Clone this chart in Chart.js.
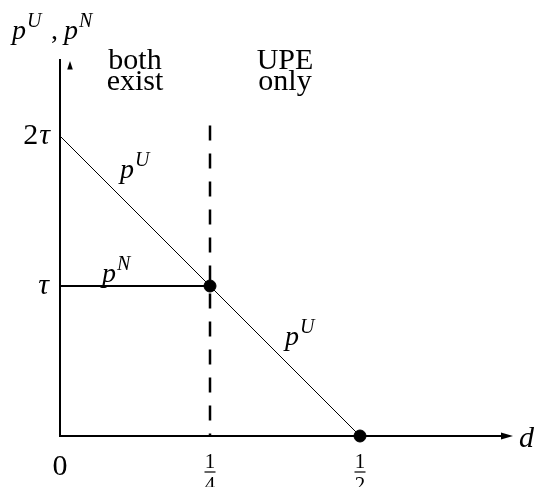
<!DOCTYPE html>
<html>
<head>
<meta charset="utf-8">
<script src="https://cdn.jsdelivr.net/npm/chart.js@4/dist/chart.umd.min.js"></script>
<style>
  html, body { margin: 0; padding: 0; background: #fff; }
  #wrap { width: 544px; height: 487px; position: relative; }
</style>
</head>
<body>
<div id="wrap"><canvas id="c" width="544" height="487"></canvas></div>
<script>
// Distance d (x) and prices in units of tau (y)
const dUPE = [0, 0.25, 0.5];          // p^U falls from 2tau to 0
const pUValues = [2, 1, 0];
const dNPE = [0, 0.25];               // p^N flat at tau while both exist
const pNValues = [1, 1];
const thresholdD = 0.25;              // regime boundary
const thresholdSpan = [2.07, 0];
const kinkD = [0.25, 0.5];
const kinkP = [1, 0];
const xTicks = [{ v: 0, num: '0' }, { v: 0.25, num: '1', den: '4' }, { v: 0.5, num: '1', den: '2' }];
const yTicks = [{ v: 1, label: 'τ' }, { v: 2, label: '2τ' }];
const regionLabels = [
  { x: 0.125, lines: ['both', 'exist'] },
  { x: 0.375, lines: ['UPE', 'only'] }
];
const curveLabels = [
  { x: 0.1, y: 1.72, base: 'p', sup: 'U' },
  { x: 0.07, y: 1.03, base: 'p', sup: 'N' },
  { x: 0.375, y: 0.61, base: 'p', sup: 'U' }
];

const pts = (xs, ys) => xs.map((x, i) => ({ x, y: ys[i] }));

const SERIF = '"Liberation Serif", "DejaVu Serif", serif';

function supText(ctx, x, y, base, sup, size) {
  ctx.font = 'italic ' + size + 'px ' + SERIF;
  ctx.textAlign = 'left';
  ctx.textBaseline = 'alphabetic';
  ctx.fillText(base, x, y);
  const w = ctx.measureText(base).width;
  ctx.font = 'italic ' + Math.round(size * 0.7) + 'px ' + SERIF;
  ctx.fillText(sup, x + w + 1, y - size * 0.42);
}

const axesPlugin = {
  id: 'axesAndText',
  beforeDatasetsDraw(chart) {
    const ctx = chart.ctx;
    const xs = chart.scales.x, ys = chart.scales.y;
    const x0 = xs.getPixelForValue(0), y0 = ys.getPixelForValue(0);
    const xEnd = xs.getPixelForValue(0.755);
    const yTop = ys.getPixelForValue(2.5);
    ctx.save();
    ctx.strokeStyle = '#000';
    ctx.fillStyle = '#000';
    ctx.lineWidth = 2;
    ctx.lineCap = 'butt';
    // horizontal axis with arrowhead
    ctx.beginPath();
    ctx.moveTo(x0 - 1, y0);
    ctx.lineTo(xEnd - 8, y0);
    ctx.stroke();
    ctx.beginPath();
    ctx.moveTo(xEnd, y0);
    ctx.lineTo(xEnd - 12, y0 - 3.5);
    ctx.lineTo(xEnd - 12, y0 + 3.5);
    ctx.closePath();
    ctx.fill();
    // vertical axis, arrowhead set just beside it
    ctx.beginPath();
    ctx.moveTo(x0, y0 + 1);
    ctx.lineTo(x0, yTop - 2);
    ctx.stroke();
    ctx.beginPath();
    ctx.moveTo(x0 + 10, yTop);
    ctx.lineTo(x0 + 7.2, yTop + 8.5);
    ctx.lineTo(x0 + 12.8, yTop + 8.5);
    ctx.closePath();
    ctx.fill();

    // y tick labels
    ctx.textBaseline = 'middle';
    ctx.textAlign = 'right';
    yTicks.forEach(t => {
      const y = ys.getPixelForValue(t.v);
      if (t.label === 'τ') {
        ctx.font = 'italic 30px ' + SERIF;
        ctx.fillText(t.label, x0 - 11, y);
      } else {
        ctx.font = 'italic 30px ' + SERIF;
        const tw = ctx.measureText('τ').width;
        ctx.fillText('τ', x0 - 10, y);
        ctx.font = '30px ' + SERIF;
        ctx.fillText('2', x0 - 10 - tw - 1, y);
      }
    });

    // x tick labels
    ctx.textAlign = 'center';
    xTicks.forEach(t => {
      const x = xs.getPixelForValue(t.v);
      if (!t.den) {
        ctx.font = '30px ' + SERIF;
        ctx.textBaseline = 'alphabetic';
        ctx.fillText(t.num, x, y0 + 39);
      } else {
        ctx.font = '21px ' + SERIF;
        ctx.textBaseline = 'alphabetic';
        ctx.fillText(t.num, x, y0 + 32);
        ctx.lineWidth = 1.2;
        ctx.beginPath();
        ctx.moveTo(x - 5.5, y0 + 36);
        ctx.lineTo(x + 5.5, y0 + 36);
        ctx.stroke();
        ctx.fillText(t.den, x, y0 + 55);
      }
    });

    // axis titles
    supText(ctx, 12, 39, 'p', 'U', 28);
    ctx.font = '28px ' + SERIF;
    ctx.fillText(',', 51, 39);
    supText(ctx, 64, 39, 'p', 'N', 28);
    ctx.font = 'italic 30px ' + SERIF;
    ctx.textAlign = 'left';
    ctx.fillText('d', 519, y0 + 11);

    // regime labels
    ctx.textAlign = 'center';
    ctx.font = '30px ' + SERIF;
    regionLabels.forEach(r => {
      const x = xs.getPixelForValue(r.x);
      ctx.fillText(r.lines[0], x, 69);
      ctx.fillText(r.lines[1], x, 90);
    });

    // curve labels
    curveLabels.forEach(l => {
      supText(ctx, xs.getPixelForValue(l.x), ys.getPixelForValue(l.y), l.base, l.sup, 28);
    });
    ctx.restore();
  }
};

new Chart(document.getElementById('c'), {
  type: 'scatter',
  data: {
    datasets: [
      { label: 'kinks', data: pts(kinkD, kinkP), pointRadius: 6, pointHoverRadius: 6,
        backgroundColor: '#000', borderColor: '#000', showLine: false, clip: false },
      { label: 'threshold', data: pts([thresholdD, thresholdD], thresholdSpan), showLine: true,
        borderColor: '#000', borderWidth: 2.5, borderDash: [15, 13], pointRadius: 0, clip: false },
      { label: 'pN', data: pts(dNPE, pNValues), showLine: true, borderColor: '#000',
        borderWidth: 2, pointRadius: 0, clip: false },
      { label: 'pU', data: pts(dUPE, pUValues), showLine: true, borderColor: '#000',
        borderWidth: 1, pointRadius: 0, clip: false }
    ]
  },
  options: {
    responsive: false,
    animation: false,
    events: [],
    layout: { padding: { left: 60, right: 34, top: 61, bottom: 51 } },
    plugins: { legend: { display: false }, tooltip: { enabled: false } },
    scales: {
      x: { type: 'linear', min: 0, max: 0.75, display: false },
      y: { type: 'linear', min: 0, max: 2.5, display: false }
    }
  },
  plugins: [axesPlugin]
});
</script>
</body>
</html>
